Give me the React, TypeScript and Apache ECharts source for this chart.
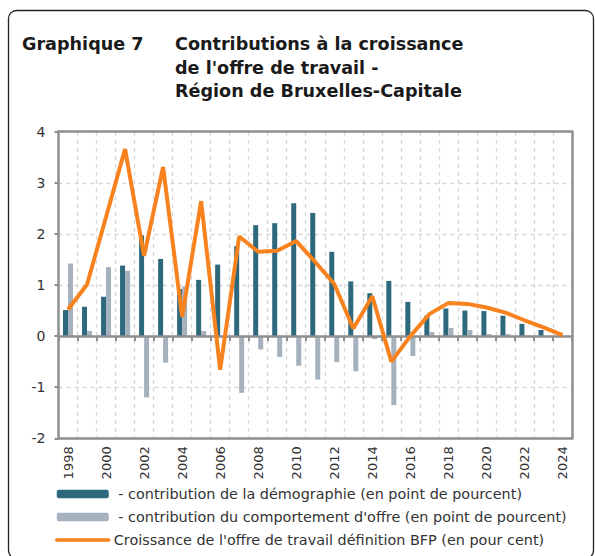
import React, { useEffect, useRef } from "react";
import * as echarts from "echarts";

const years = [
  "1998", "1999", "2000", "2001", "2002", "2003", "2004", "2005", "2006", "2007",
  "2008", "2009", "2010", "2011", "2012", "2013", "2014", "2015", "2016", "2017",
  "2018", "2019", "2020", "2021", "2022", "2023", "2024",
];

const demography = [
  0.51, 0.575, 0.77, 1.38, 1.97, 1.51, 0.92, 1.1, 1.4, 1.76,
  2.17, 2.21, 2.6, 2.41, 1.65, 1.07, 0.84, 1.08, 0.67, 0.4,
  0.54, 0.5, 0.49, 0.4, 0.24, 0.12, 0.02,
];

const behaviour = [
  1.42, 0.1, 1.35, 1.28, -1.2, -0.52, 0.97, 0.1, -0.02, -1.11,
  -0.26, -0.41, -0.58, -0.85, -0.51, -0.69, -0.06, -1.35, -0.39, 0.08,
  0.16, 0.12, 0.04, 0.04, 0.01, 0.0, -0.01,
];

const growth = [
  0.52, 1.01, 2.33, 3.66, 1.57, 3.31, 0.38, 2.64, -0.66, 1.95,
  1.65, 1.67, 1.86, 1.45, 1.02, 0.15, 0.78, -0.5, 0.0, 0.43,
  0.65, 0.63, 0.56, 0.46, 0.31, 0.17, 0.02,
];

const titleLeft = "Graphique 7";
const titleLines = [
  "Contributions à la croissance",
  "de l'offre de travail -",
  "Région de Bruxelles-Capitale",
];

const seriesNames = [
  "\u00a0- contribution de la démographie (en point de pourcent)",
  "\u00a0- contribution du comportement d'offre (en point de pourcent)",
  "Croissance de l'offre de travail définition BFP (en pour cent)",
];

const FONT = "DejaVu Sans";
const AXIS = "#8f8f8f";
const GRIDC = "#d6d6d6";
const DARK = "#2e687d";
const LIGHT = "#a6b1be";
const ORANGE = "#f7821e";
const TEXT = "#333333";

const Y_MIN = -2;
const Y_MAX = 4;

export default function App() {
  const ref = useRef<HTMLDivElement>(null);

  useEffect(() => {
    const chart = echarts.init(ref.current!, null, { renderer: "svg" });
    const lineOnly = (extra: any) => ({
      axisTick: { show: false },
      axisLabel: { show: false },
      splitLine: { show: false },
      ...extra,
    });
    chart.setOption({
      animation: false,
      textStyle: { fontFamily: FONT },
      grid: {
        left: 58.5,
        top: 131.7,
        width: 513.5,
        height: 306.6,
        show: false,
      },
      xAxis: [
        {
          type: "category",
          data: years,
          position: "bottom",
          z: 5,
          axisLine: { onZero: false, lineStyle: { color: AXIS, width: 2.5 } },
          axisTick: { show: false },
          axisLabel: {
            interval: 1,
            rotate: 90,
            margin: 8,
            color: TEXT,
            fontSize: 13,
            fontFamily: FONT,
          },
          splitLine: { show: false },
        },
        {
          type: "category",
          data: years,
          position: "bottom",
          axisLine: { show: false, onZero: false },
          axisTick: { show: false },
          axisLabel: { show: false },
          splitLine: {
            show: true,
            interval: 0,
            lineStyle: { color: GRIDC, type: [4, 4], width: 1.3 },
          },
        },
        {
          type: "category",
          data: years,
          position: "bottom",
          z: 10,
          axisLine: {
            show: true,
            onZero: true,
            onZeroAxisIndex: 0,
            lineStyle: { color: AXIS, width: 2.5 },
          },
          axisTick: {
            show: true,
            interval: 0,
            length: 5,
            lineStyle: { color: AXIS, width: 2 },
          },
          axisLabel: { show: false },
          splitLine: { show: false },
        },
        lineOnly({
          type: "category",
          data: years,
          position: "top",
          z: 5,
          axisLine: { show: true, onZero: false, lineStyle: { color: AXIS, width: 2.5 } },
        }),
      ],
      yAxis: [
        {
          type: "value",
          min: Y_MIN,
          max: Y_MAX,
          interval: 1,
          position: "left",
          axisLine: { show: false, onZero: false },
          axisTick: { show: false },
          axisLabel: { margin: 13, color: TEXT, fontSize: 14, fontFamily: FONT },
          splitLine: { lineStyle: { color: GRIDC, type: [4, 4], width: 1.3 } },
        },
        {
          type: "value",
          min: Y_MIN,
          max: Y_MAX,
          interval: 1,
          position: "left",
          z: 5,
          axisLine: { show: true, onZero: false, lineStyle: { color: AXIS, width: 2.5 } },
          axisTick: { show: true, length: 4, lineStyle: { color: AXIS, width: 2 } },
          axisLabel: { show: false },
          splitLine: { show: false },
        },
        lineOnly({
          type: "value",
          min: Y_MIN,
          max: Y_MAX,
          interval: 1,
          position: "right",
          z: 5,
          axisLine: { show: true, onZero: false, lineStyle: { color: AXIS, width: 2.5 } },
        }),
      ],
      legend: {
        orient: "vertical",
        left: 55,
        top: 487,
        padding: 0,
        itemWidth: 52,
        itemHeight: 8.5,
        itemGap: 9,
        textStyle: { fontSize: 14.4, color: TEXT, fontFamily: FONT },
        lineStyle: { width: 3.5, cap: "round" },
        data: [
          seriesNames[0],
          seriesNames[1],
          { name: seriesNames[2], itemStyle: { opacity: 0 } },
        ],
      },
      series: [
        {
          name: seriesNames[0],
          type: "bar",
          data: demography,
          barWidth: 5,
          barGap: "0%",
          itemStyle: { color: DARK },
          z: 2,
        },
        {
          name: seriesNames[1],
          type: "bar",
          data: behaviour,
          barWidth: 5,
          barGap: "0%",
          itemStyle: { color: LIGHT },
          z: 2,
        },
        {
          name: seriesNames[2],
          type: "line",
          data: growth,
          symbol: "none",
          lineStyle: { color: ORANGE, width: 4 },
          itemStyle: { color: ORANGE },
          z: 20,
        },
      ],
      graphic: [
        {
          type: "rect",
          silent: true,
          shape: { x: 8.5, y: 10.5, width: 585, height: 548, r: 8 },
          style: { fill: "none", stroke: "#222", lineWidth: 1.3 },
        },
        {
          type: "text",
          x: 22,
          y: 44,
          style: {
            text: titleLeft,
            fill: "#1a1a1a",
            fontFamily: FONT,
            fontWeight: "bold",
            fontSize: 17.6,
            verticalAlign: "middle",
          },
        },
        ...titleLines.map((t, i) => ({
          type: "text",
          x: 175,
          y: 44 + i * 23.5,
          style: {
            text: t,
            fill: "#1a1a1a",
            fontFamily: FONT,
            fontWeight: "bold",
            fontSize: 17.6,
            verticalAlign: "middle",
          },
        })),
      ],
    });
    return () => chart.dispose();
  }, []);

  return (
    <div
      ref={ref}
      style={{ position: "absolute", left: 0, top: 0, width: 595, height: 556 }}
    />
  );
}
